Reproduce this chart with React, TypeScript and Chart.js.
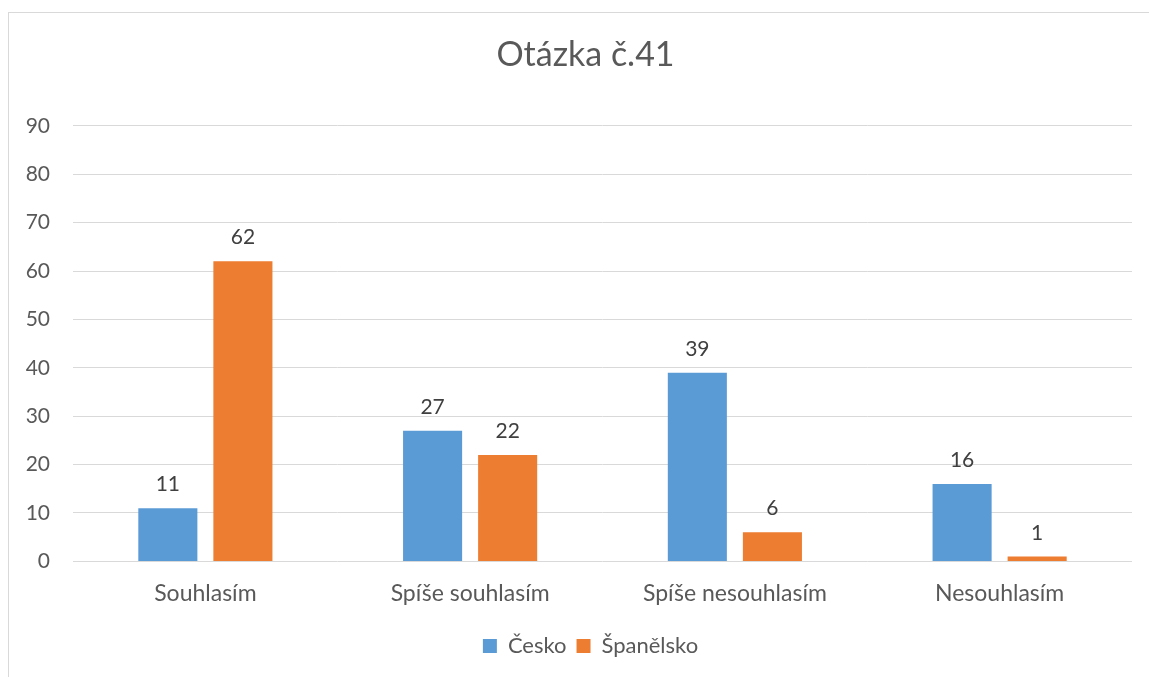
import React, { useEffect, useRef } from "react";
import { Chart, registerables } from "chart.js";

Chart.register(...registerables);

const categories = ["Souhlasím", "Spíše souhlasím", "Spíše nesouhlasím", "Nesouhlasím"];
const seriesNames = ["Česko", "Španělsko"];
const ceskoValues = [11, 27, 39, 16];
const spanelskoValues = [62, 22, 6, 1];
const yTicks = [0, 10, 20, 30, 40, 50, 60, 70, 80, 90];
const titleText = "Otázka č.41";

const FONT = "Lato, 'Open Sans', sans-serif";

const dataLabelPlugin = {
  id: "dataLabels",
  afterDatasetsDraw(chart: any) {
    const ctx = chart.ctx;
    ctx.save();
    ctx.font = `21px ${FONT}`;
    ctx.fillStyle = "#404040";
    ctx.textAlign = "center";
    ctx.textBaseline = "alphabetic";
    chart.data.datasets.forEach((ds: any, i: number) => {
      const meta = chart.getDatasetMeta(i);
      meta.data.forEach((bar: any, j: number) => {
        ctx.fillText(String(ds.data[j]), bar.x, bar.y - 17);
      });
    });
    ctx.restore();
  },
};

// Shift title and legend horizontally so they are centred on the whole chart box
const centerShiftPlugin = {
  id: "centerShift",
  afterLayout(chart: any) {
    const t = chart.titleBlock;
    if (t) {
      t.left += 15;
      t.right += 15;
    }
    const l = chart.legend;
    if (l) {
      l.left += 20;
      l.right += 20;
    }
  },
};

export default function App() {
  const ref = useRef<HTMLCanvasElement>(null);
  useEffect(() => {
    if (!ref.current) return;
    const chart = new Chart(ref.current, {
      type: "bar",
      data: {
        labels: categories,
        datasets: [
          {
            label: seriesNames[0],
            data: ceskoValues,
            backgroundColor: "#5B9BD5",
            categoryPercentage: 0.567,
            barPercentage: 0.787,
          },
          {
            label: seriesNames[1],
            data: spanelskoValues,
            backgroundColor: "#ED7D31",
            categoryPercentage: 0.567,
            barPercentage: 0.787,
          },
        ],
      },
      options: {
        animation: false,
        responsive: false,
        maintainAspectRatio: false,
        layout: { padding: { left: 0, right: 17, top: 0, bottom: 10 } },
        plugins: {
          title: {
            display: true,
            text: titleText,
            color: "#595959",
            font: { family: FONT, size: 34, weight: "normal" },
            padding: { top: 22, bottom: 50 },
          },
          legend: {
            display: true,
            position: "bottom",
            labels: {
              color: "#595959",
              font: { family: FONT, size: 22 },
              boxWidth: 14,
              boxHeight: 14,
              padding: 10,
            },
          },
          tooltip: { enabled: false },
        },
        scales: {
          x: {
            grid: { display: false },
            border: { display: false },
            afterFit: (scale: any) => {
              scale.height = scale.height + 8;
            },
            ticks: {
              color: "#595959",
              font: { family: FONT, size: 23 },
              padding: 10,
            },
          },
          y: {
            min: 0,
            max: 90,
            afterBuildTicks: (scale: any) => {
              scale.ticks = yTicks.map((v) => ({ value: v }));
            },
            afterFit: (scale: any) => {
              scale.width = 64;
            },
            grid: { color: "#d9d9d9", lineWidth: 1, drawTicks: false },
            border: { display: false },
            ticks: {
              color: "#595959",
              font: { family: FONT, size: 21 },
              padding: 23,
            },
          },
        },
      },
      plugins: [dataLabelPlugin, centerShiftPlugin],
    });
    return () => chart.destroy();
  }, []);

  return (
    <div
      style={{
        position: "fixed",
        left: 8,
        top: 12,
        width: 1150,
        height: 680,
        border: "1px solid #d9d9d9",
        background: "#fff",
      }}
    >
      <canvas
        ref={ref}
        width={1140}
        height={664}
        style={{ position: "absolute", left: 0, top: 0, width: 1140, height: 664 }}
      />
    </div>
  );
}
